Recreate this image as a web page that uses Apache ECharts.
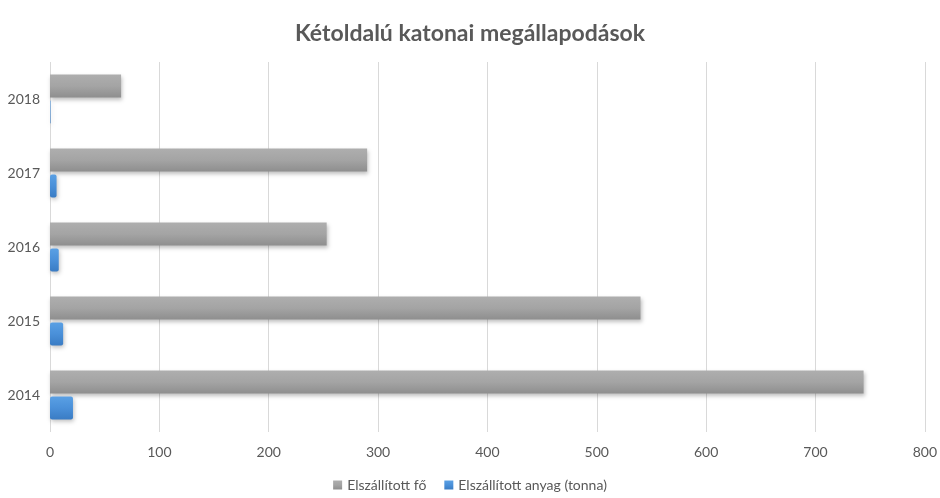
<!DOCTYPE html>
<html><head><meta charset="utf-8">
<script src="https://cdn.jsdelivr.net/npm/echarts@6/dist/echarts.min.js"></script>
<style>html,body{margin:0;padding:0;background:#fff}#c{width:940px;height:498px}</style>
</head><body><div id="c"></div>
<script>
const categories = ['2014', '2015', '2016', '2017', '2018'];
const people = [744, 540, 253, 290, 65];
const material = [21, 12, 8, 6, 0.5];
const seriesNames = ['Elszállított fő', 'Elszállított anyag (tonna)'];
const xTicks = [0, 100, 200, 300, 400, 500, 600, 700, 800];

const chart = echarts.init(document.getElementById('c'));
const font = 'Lato, "Open Sans", sans-serif';
chart.setOption({
  animation: false,
  title: {
    text: 'Kétoldalú katonai megállapodások',
    left: 'center', top: 17,
    textStyle: {fontFamily: font, fontSize: 23, fontWeight: 'bold', color: '#595959'}
  },
  legend: {
    bottom: 1, left: 'center', itemWidth: 9, itemHeight: 9, itemGap: 18,
    icon: 'rect',
    textStyle: {fontFamily: font, fontSize: 14, color: '#595959'},
    data: seriesNames
  },
  grid: {left: 50, right: 13, top: 62, bottom: 66, containLabel: false},
  xAxis: {
    type: 'value', min: xTicks[0], max: xTicks[xTicks.length - 1], interval: 100,
    axisLine: {show: false}, axisTick: {show: false},
    splitLine: {lineStyle: {color: '#d9d9d9'}},
    axisLabel: {fontFamily: font, fontSize: 14, color: '#595959', margin: 13}
  },
  yAxis: {
    type: 'category', data: categories,
    axisLine: {show: false}, axisTick: {show: false},
    axisLabel: {fontFamily: font, fontSize: 14, color: '#595959', margin: 10}
  },
  series: [
    {
      name: seriesNames[0], type: 'bar', data: people,
      barWidth: 23, barGap: '12%',
      itemStyle: {
        color: new echarts.graphic.LinearGradient(0, 0, 0, 1, [
          {offset: 0, color: '#aeaeae'}, {offset: 0.5, color: '#a4a4a4'}, {offset: 1, color: '#8e8e8e'}
        ]),
        shadowColor: 'rgba(0,0,0,0.25)', shadowBlur: 4, shadowOffsetY: 2, shadowOffsetX: 1
      }
    },
    {
      name: seriesNames[1], type: 'bar', data: material,
      barWidth: 23, barGap: '12%',
      itemStyle: {
        color: new echarts.graphic.LinearGradient(0, 0, 0, 1, [
          {offset: 0, color: '#5aa0e4'}, {offset: 0.5, color: '#4a90d9'}, {offset: 1, color: '#3a7cc4'}
        ]),
        borderRadius: 2,
        shadowColor: 'rgba(0,0,0,0.25)', shadowBlur: 4, shadowOffsetY: 2, shadowOffsetX: 1
      }
    }
  ]
});
</script></body></html>
